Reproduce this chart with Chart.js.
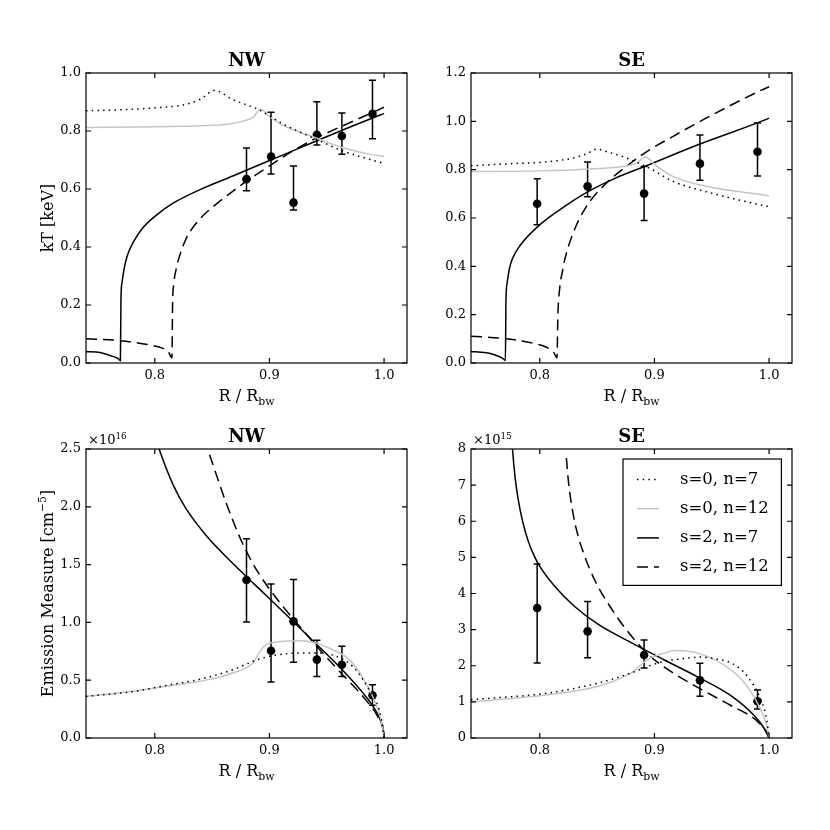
<!DOCTYPE html>
<html>
<head>
<meta charset="utf-8">
<script src="https://cdn.jsdelivr.net/npm/chart.js@4.4.0/dist/chart.umd.min.js"></script>
<style>
  html, body { margin: 0; padding: 0; background: #fff; }
  #wrap { position: relative; width: 830px; height: 830px; }
  .panel { position: absolute; width: 415px; height: 415px; }
</style>
</head>
<body>
<div id="wrap">
  <div class="panel" style="left:0;top:0"><canvas id="ktNW" width="415" height="415"></canvas></div>
  <div class="panel" style="left:415px;top:0"><canvas id="ktSE" width="415" height="415"></canvas></div>
  <div class="panel" style="left:0;top:415px"><canvas id="emNW" width="415" height="415"></canvas></div>
  <div class="panel" style="left:415px;top:415px"><canvas id="emSE" width="415" height="415"></canvas></div>
</div>
<script>
// axis ticks
const rTicks = [0.8, 0.9, 1.0];
const ktTicksNW = [0, 0.2, 0.4, 0.6, 0.8, 1.0];
const ktTicksSE = [0, 0.2, 0.4, 0.6, 0.8, 1.0, 1.2];
const emTicksNW = [0, 0.5, 1.0, 1.5, 2.0, 2.5];   // x1e16
const emTicksSE = [0, 1, 2, 3, 4, 5, 6, 7, 8];    // x1e15

const legendLabels = ['s=0, n=7', 's=0, n=12', 's=2, n=7', 's=2, n=12'];

// --- NW kT ---
const nwR = [0.880, 0.9014, 0.921, 0.9414, 0.9632, 0.9899];
const nwKt = [0.634, 0.712, 0.553, 0.787, 0.783, 0.859];
const nwKtLo = [0.594, 0.652, 0.528, 0.752, 0.720, 0.773];
const nwKtHi = [0.741, 0.865, 0.679, 0.901, 0.862, 0.975];

const nwKtS0n7 = [[0.74,0.870],[0.77,0.873],[0.80,0.880],[0.826,0.891],[0.84,0.910],[0.852,0.940],[0.868,0.908],[0.891,0.873],[0.912,0.824],[0.9406,0.772],[0.964,0.731],[0.985,0.705],[1.0,0.688]];
const nwKtS0n12 = [[0.74,0.812],[0.80,0.815],[0.84,0.818],[0.865,0.824],[0.877,0.834],[0.886,0.848],[0.892,0.876],[0.90,0.850],[0.9116,0.820],[0.9406,0.776],[0.964,0.742],[0.985,0.722],[1.0,0.712]];
const nwKtS2n7 = [[0.74,0.040],[0.7522,0.036],[0.7609,0.026],[0.7681,0.015],[0.7700,0.008],[0.7705,0.22],[0.7715,0.28],[0.7735,0.33],[0.776,0.37],[0.781,0.415],[0.790,0.468],[0.8014,0.510],[0.816,0.551],[0.839,0.597],[0.868,0.645],[0.897,0.693],[0.926,0.741],[0.955,0.789],[0.99,0.845],[1.0,0.860]];
const nwKtS2n12 = [[0.74,0.084],[0.77,0.077],[0.7957,0.062],[0.806,0.052],[0.8116,0.040],[0.8150,0.018],[0.8155,0.20],[0.8165,0.27],[0.819,0.33],[0.8217,0.37],[0.8275,0.43],[0.839,0.495],[0.8536,0.548],[0.868,0.592],[0.880,0.627],[0.897,0.672],[0.920,0.730],[0.9406,0.775],[0.964,0.818],[0.985,0.855],[1.0,0.882]];

// --- SE kT ---
const seR = [0.7977, 0.8417, 0.891, 0.9397, 0.9899];
const seKt = [0.659, 0.731, 0.701, 0.825, 0.874];
const seKtLo = [0.572, 0.688, 0.590, 0.756, 0.774];
const seKtHi = [0.762, 0.832, 0.813, 0.943, 0.993];

const seKtS0n7 = [[0.74,0.816],[0.78,0.826],[0.80,0.830],[0.829,0.848],[0.842,0.868],[0.8493,0.885],[0.86,0.872],[0.8725,0.854],[0.8957,0.806],[0.916,0.752],[0.945,0.709],[0.9957,0.651],[1.0,0.647]];
const seKtS0n12 = [[0.74,0.792],[0.80,0.795],[0.84,0.802],[0.8725,0.813],[0.884,0.826],[0.8922,0.852],[0.90,0.822],[0.916,0.772],[0.945,0.731],[0.9986,0.693],[1.0,0.692]];
const seKtS2n7 = [[0.74,0.048],[0.752,0.043],[0.761,0.033],[0.768,0.018],[0.7700,0.010],[0.7705,0.26],[0.7715,0.33],[0.7735,0.39],[0.776,0.43],[0.7826,0.485],[0.80,0.572],[0.8217,0.648],[0.8406,0.705],[0.866,0.765],[0.8913,0.813],[0.9391,0.905],[0.9986,1.010],[1.0,1.013]];
const seKtS2n12 = [[0.74,0.111],[0.7696,0.101],[0.7957,0.080],[0.806,0.065],[0.812,0.045],[0.8150,0.022],[0.8158,0.20],[0.8174,0.31],[0.8200,0.385],[0.8217,0.426],[0.829,0.537],[0.8406,0.647],[0.858,0.744],[0.8754,0.813],[0.8957,0.882],[0.916,0.937],[0.945,1.013],[0.9928,1.128],[1.0,1.143]];

// --- NW emission measure (x1e16 cm^-5) ---
const nwEm = [1.367, 0.755, 1.009, 0.678, 0.634, 0.369];
const nwEmLo = [1.003, 0.484, 0.655, 0.531, 0.531, 0.283];
const nwEmHi = [1.724, 1.332, 1.372, 0.845, 0.793, 0.461];

const nwEmS0n7 = [[0.74,0.36],[0.78,0.40],[0.81,0.455],[0.84,0.51],[0.868,0.59],[0.885,0.66],[0.897,0.700],[0.912,0.726],[0.926,0.735],[0.94,0.735],[0.955,0.718],[0.9725,0.62],[0.987,0.418],[0.9957,0.245],[0.999,0.09],[1.0,0.0]];
const nwEmS0n12 = [[0.74,0.36],[0.7812,0.404],[0.81,0.447],[0.839,0.49],[0.868,0.562],[0.8855,0.649],[0.8928,0.764],[0.897,0.807],[0.9116,0.836],[0.926,0.842],[0.9406,0.822],[0.955,0.764],[0.9696,0.678],[0.984,0.476],[0.9957,0.216],[0.999,0.08],[1.0,0.0]];
const nwEmS2n7 = [[0.800,2.62],[0.8038,2.5],[0.816,2.19],[0.8275,1.98],[0.845,1.75],[0.862,1.57],[0.880,1.395],[0.897,1.235],[0.921,1.005],[0.9406,0.815],[0.964,0.585],[0.984,0.36],[0.9928,0.235],[0.997,0.15],[0.9995,0.06],[1.0,0.0]];
const nwEmS2n12 = [[0.8478,2.451],[0.862,2.04],[0.874,1.74],[0.8855,1.51],[0.897,1.33],[0.9116,1.14],[0.926,0.97],[0.9406,0.80],[0.964,0.545],[0.984,0.33],[0.9957,0.16],[0.9995,0.05],[1.0,0.0]];

// --- SE emission measure (x1e15 cm^-5) ---
const seEm = [3.598, 2.952, 2.297, 1.596, 1.015];
const seEmLo = [2.076, 2.223, 1.937, 1.153, 0.803];
const seEmHi = [4.815, 3.782, 2.712, 2.066, 1.328];

const seEmS0n7 = [[0.74,1.06],[0.807,1.245],[0.8507,1.52],[0.8797,1.80],[0.894,1.98],[0.908,2.12],[0.923,2.19],[0.9406,2.24],[0.955,2.18],[0.9667,2.08],[0.981,1.71],[0.9928,1.06],[0.998,0.5],[1.0,0.0]];
const seEmS0n12 = [[0.74,1.0],[0.807,1.2],[0.8507,1.43],[0.8797,1.80],[0.894,2.17],[0.9087,2.35],[0.9174,2.42],[0.9377,2.35],[0.9667,1.89],[0.981,1.43],[0.9928,0.784],[0.998,0.35],[1.0,0.0]];
const seEmS2n7 = [[0.7752,8.5],[0.7762,8.0],[0.7785,7.2],[0.7812,6.6],[0.785,6.0],[0.7899,5.45],[0.795,5.05],[0.80,4.75],[0.813,4.20],[0.8304,3.64],[0.8507,3.15],[0.8797,2.64],[0.9087,2.16],[0.9377,1.69],[0.9667,1.17],[0.987,0.62],[0.9957,0.27],[1.0,0.0]];
const seEmS2n12 = [[0.8232,7.75],[0.825,7.1],[0.8275,6.5],[0.831,5.9],[0.8362,5.3],[0.8478,4.38],[0.865,3.46],[0.8797,2.83],[0.894,2.33],[0.9087,1.96],[0.9377,1.40],[0.9667,0.90],[0.9899,0.46],[0.998,0.15],[1.0,0.0]];

// line styles for the 4 models
const curveColor = ['#000', '#c4c4c4', '#000', '#000'];
const curveDash = [[1.5, 4.2], [], [], [11, 6]];
const FAMILY = "'DejaVu Serif', serif";

function fnt(size, bold) {
  return (bold ? 'bold ' : '') + size + 'px ' + FAMILY;
}

// text with sub/superscripts, y is baseline
function drawRich(ctx, parts, x, y, size, align, bold) {
  let w = 0;
  parts.forEach(p => {
    ctx.font = fnt(p.sub || p.sup ? size * 0.68 : size, bold);
    w += ctx.measureText(p.t).width;
  });
  let cx = align === 'center' ? x - w / 2 : align === 'right' ? x - w : x;
  ctx.textAlign = 'left';
  ctx.textBaseline = 'alphabetic';
  parts.forEach(p => {
    const s = p.sub || p.sup ? size * 0.68 : size;
    ctx.font = fnt(s, bold);
    const dy = p.sub ? size * 0.22 : p.sup ? -size * 0.42 : 0;
    ctx.fillText(p.t, cx, y + dy);
    cx += ctx.measureText(p.t).width;
  });
}

function framePlugin(opt) {
  return {
    id: 'frame',
    beforeDatasetsDraw(chart) {
      const ctx = chart.ctx, xs = chart.scales.x, ys = chart.scales.y;
      chart.data.datasets.forEach(ds => {
        if (!ds.errLo) return;
        ctx.save();
        ctx.strokeStyle = '#000';
        ctx.lineWidth = 1.5;
        ds.data.forEach((p, i) => {
          const px = xs.getPixelForValue(p.x);
          const y1 = ys.getPixelForValue(ds.errLo[i]);
          const y2 = ys.getPixelForValue(ds.errHi[i]);
          ctx.beginPath();
          ctx.moveTo(px, y1); ctx.lineTo(px, y2);
          ctx.moveTo(px - 3.5, y1); ctx.lineTo(px + 3.5, y1);
          ctx.moveTo(px - 3.5, y2); ctx.lineTo(px + 3.5, y2);
          ctx.stroke();
        });
        ctx.restore();
      });
    },
    afterDraw(chart) {
      const ctx = chart.ctx, a = chart.chartArea;
      const xs = chart.scales.x, ys = chart.scales.y;
      ctx.save();
      ctx.strokeStyle = '#000';
      ctx.fillStyle = '#000';
      ctx.lineWidth = 1.2;
      ctx.strokeRect(a.left, a.top, a.right - a.left, a.bottom - a.top);
      // inward ticks on all sides
      ctx.beginPath();
      xs.ticks.forEach(t => {
        const px = xs.getPixelForValue(t.value);
        ctx.moveTo(px, a.bottom); ctx.lineTo(px, a.bottom - 5);
        ctx.moveTo(px, a.top); ctx.lineTo(px, a.top + 5);
      });
      ys.ticks.forEach(t => {
        const py = ys.getPixelForValue(t.value);
        ctx.moveTo(a.left, py); ctx.lineTo(a.left + 5, py);
        ctx.moveTo(a.right, py); ctx.lineTo(a.right - 5, py);
      });
      ctx.stroke();

      const cx = (a.left + a.right) / 2;
      drawRich(ctx, [{t: opt.title}], cx, a.top - 7, 18, 'center', true);
      drawRich(ctx, [{t: 'R / R'}, {t: 'bw', sub: true}], cx, a.bottom + 38, 16, 'center');
      if (opt.ylabel) {
        ctx.save();
        ctx.translate(52.5, (a.top + a.bottom) / 2);
        ctx.rotate(-Math.PI / 2);
        drawRich(ctx, opt.ylabel, 0, 0, 16, 'center');
        ctx.restore();
      }
      if (opt.offset) {
        drawRich(ctx, [{t: '×10'}, {t: opt.offset, sup: true}], a.left + 2, a.top - 5, 13, 'left');
      }
      if (opt.legend) {
        const bw = 158.4, bh = 126.4;
        const bx = a.right - 10.6 - bw, by = a.top + 10;
        ctx.fillStyle = '#fff';
        ctx.fillRect(bx, by, bw, bh);
        ctx.lineWidth = 1.2;
        ctx.strokeRect(bx, by, bw, bh);
        chart.data.datasets.forEach((ds, i) => {
          if (!ds.inLegend) return;
          const ry = by + 20.5 + i * 29.2;
          ctx.save();
          ctx.strokeStyle = ds.borderColor;
          ctx.lineWidth = ds.borderWidth;
          ctx.setLineDash(ds.borderDash);
          ctx.beginPath();
          ctx.moveTo(bx + 14, ry); ctx.lineTo(bx + 36, ry);
          ctx.stroke();
          ctx.restore();
          ctx.fillStyle = '#000';
          ctx.font = fnt(16.5);
          ctx.textAlign = 'left';
          ctx.textBaseline = 'middle';
          ctx.fillText(ds.label, bx + 57, ry);
        });
      }
      ctx.restore();
    }
  };
}

function panel(id, opt) {
  const datasets = opt.curves.map((c, i) => ({
    label: legendLabels[i],
    inLegend: true,
    data: c,
    showLine: true,
    pointRadius: 0,
    borderWidth: 1.5,
    borderColor: curveColor[i],
    borderDash: curveDash[i],
    borderCapStyle: 'butt',
    cubicInterpolationMode: 'monotone',
    fill: false
  }));
  datasets.push({
    label: 'data',
    data: opt.r.map((r, i) => ({x: r, y: opt.v[i]})),
    errLo: opt.lo,
    errHi: opt.hi,
    showLine: false,
    pointRadius: 4.3,
    pointBackgroundColor: '#000',
    pointBorderWidth: 0
  });
  const tickFont = {family: FAMILY, size: 13};
  new Chart(document.getElementById(id), {
    type: 'scatter',
    data: {datasets: datasets},
    options: {
      responsive: false,
      animation: false,
      devicePixelRatio: 1,
      events: [],
      layout: {padding: {left: 0, bottom: 0, top: opt.top, right: opt.right}},
      plugins: {legend: {display: false}, tooltip: {enabled: false}},
      scales: {
        x: {
          type: 'linear', min: 0.74, max: 1.02,
          afterBuildTicks: s => { s.ticks = rTicks.map(v => ({value: v})); },
          afterFit: s => { s.height = opt.bottom; },
          grid: {display: false, drawTicks: false}, border: {display: false},
          ticks: {font: tickFont, color: '#000', padding: 5, maxRotation: 0, autoSkip: false, callback: v => v.toFixed(1)}
        },
        y: {
          type: 'linear', min: 0, max: opt.yTicks[opt.yTicks.length - 1],
          afterBuildTicks: s => { s.ticks = opt.yTicks.map(v => ({value: v})); },
          afterFit: s => { s.width = opt.left; },
          grid: {display: false, drawTicks: false}, border: {display: false},
          ticks: {font: tickFont, color: '#000', padding: 5, autoSkip: false, callback: opt.fmt}
        }
      }
    },
    plugins: [framePlugin(opt)]
  });
}

const oneDec = v => v.toFixed(1);

panel('ktNW', {
  title: 'NW', ylabel: [{t: 'kT [keV]'}], yTicks: ktTicksNW, fmt: oneDec,
  left: 86, top: 73, right: 8, bottom: 52,
  curves: [nwKtS0n7, nwKtS0n12, nwKtS2n7, nwKtS2n12],
  r: nwR, v: nwKt, lo: nwKtLo, hi: nwKtHi
});
panel('ktSE', {
  title: 'SE', yTicks: ktTicksSE, fmt: oneDec,
  left: 56, top: 73, right: 38, bottom: 52,
  curves: [seKtS0n7, seKtS0n12, seKtS2n7, seKtS2n12],
  r: seR, v: seKt, lo: seKtLo, hi: seKtHi
});
panel('emNW', {
  title: 'NW', ylabel: [{t: 'Emission Measure [cm'}, {t: '\u22125', sup: true}, {t: ']'}],
  yTicks: emTicksNW, fmt: oneDec, offset: '16',
  left: 86, top: 34, right: 8, bottom: 92,
  curves: [nwEmS0n7, nwEmS0n12, nwEmS2n7, nwEmS2n12],
  r: nwR, v: nwEm, lo: nwEmLo, hi: nwEmHi
});
panel('emSE', {
  title: 'SE', yTicks: emTicksSE, fmt: v => String(v), offset: '15', legend: true,
  left: 56, top: 34, right: 38, bottom: 92,
  curves: [seEmS0n7, seEmS0n12, seEmS2n7, seEmS2n12],
  r: seR, v: seEm, lo: seEmLo, hi: seEmHi
});
</script>
</body>
</html>
